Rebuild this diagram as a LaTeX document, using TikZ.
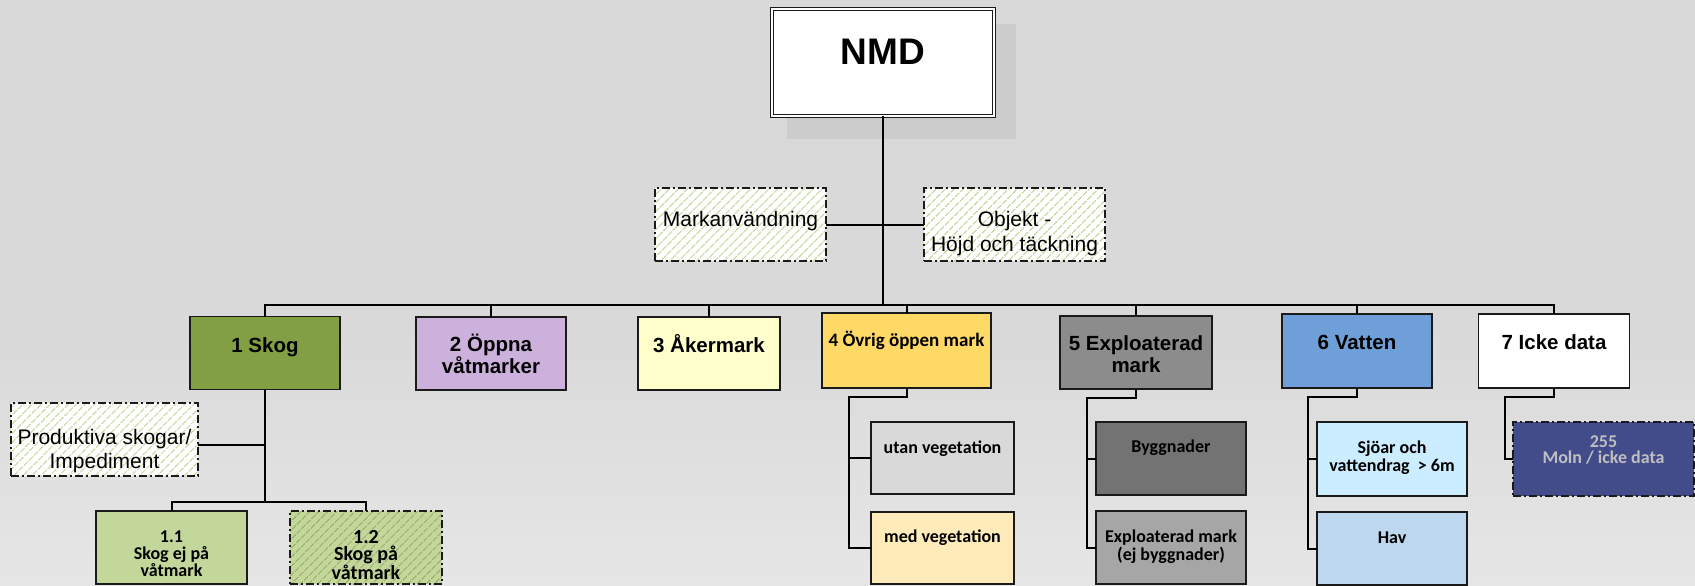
\documentclass[tikz,border=0pt]{standalone}
\usepackage{fontspec}
\setmainfont{Liberation Sans}
\newfontfamily\calib{Carlito}
\usetikzlibrary{patterns.meta}
\definecolor{bg}{HTML}{D9D9D9}
\definecolor{bgl}{HTML}{E6E6E6}
\definecolor{shadowc}{HTML}{CCCCCC}
\definecolor{boxline}{HTML}{1A1A1A}
\definecolor{cskog}{HTML}{82A043}
\definecolor{coppna}{HTML}{CDB1DD}
\definecolor{caker}{HTML}{FFFFCC}
\definecolor{covrig}{HTML}{FFD966}
\definecolor{cexpl}{HTML}{8C8C8C}
\definecolor{cvatten}{HTML}{6F9FD8}
\definecolor{cutan}{HTML}{D9D9D9}
\definecolor{cmed}{HTML}{FFEBB9}
\definecolor{cbygg}{HTML}{737373}
\definecolor{cexplm}{HTML}{A6A6A6}
\definecolor{csjoar}{HTML}{CCECFF}
\definecolor{chav}{HTML}{BDD7EE}
\definecolor{cmoln}{HTML}{434C8A}
\definecolor{cmolntxt}{HTML}{BFBFBF}
\definecolor{csgl}{HTML}{C4D79B}
\definecolor{hatchg}{HTML}{C4D79B}
\definecolor{hatchd}{HTML}{98AC68}
\newcommand\bx[4]{\begin{minipage}[c][#2pt][t]{#1pt}\centering\rule{0pt}{#3pt}#4\end{minipage}}
\begin{document}
\begin{tikzpicture}[x=1pt,y=-1pt,
  box/.style={draw=boxline, line width=1.8pt, inner sep=0pt, outer sep=0pt},
  dashdot/.style={dash pattern=on 8pt off 3pt on 2pt off 3pt},
  hatchbox/.style={box, dashdot, preaction={fill=white},
    pattern={Lines[angle=45,distance=6.5pt,line width=1.5pt]}, pattern color=hatchg},
  titlef/.style={font=\bfseries\fontsize{20.5}{22}\selectfont},
  subf/.style={font=\calib\bfseries\fontsize{18}{18}\selectfont},
  plainf/.style={font=\fontsize{21}{25}\selectfont},
  conn/.style={draw=black, line width=2pt}]
\useasboundingbox (0,0) rectangle (1695,586);
\clip (0,0) rectangle (1695,586);
\fill[bg] (0,0) rectangle (1695,586);
\shade[top color=bg, bottom color=bgl] (0,330) rectangle (1695,586);
% top node
\fill[shadowc] (787,24) rectangle (1016,139);
\node[box, fill=white, line width=1.1pt, double=white, double distance=2.6pt, font=\bfseries\fontsize{37}{40}\selectfont] (nmd) at (883,62.5) {\bx{222}{107}{56}{NMD}};
% dashed side nodes
\node[hatchbox, plainf] (mark) at (740.5,224.5) {\bx{171}{73}{38}{Markanvändning}};
\node[hatchbox, plainf] (objekt) at (1014.5,224.5) {\bx{181}{73}{38}{Objekt -\\Höjd och täckning}};
\node[hatchbox, font=\fontsize{21}{24}\selectfont] (prod) at (104.5,439.5) {\bx{187}{73}{41}{Produktiva skogar/\\Impediment}};
% level 1
\node[box, fill=cskog, titlef] (skog) at (265,353) {\bx{150}{73}{36}{1 Skog}};
\node[box, fill=coppna, titlef] (oppna) at (491,353.5) {\bx{150}{73}{34}{2 Öppna\\våtmarker}};
\node[box, fill=caker, titlef] (aker) at (709,353.5) {\bx{142}{73}{35}{3 Åkermark}};
\node[box, fill=covrig, font=\calib\bfseries\fontsize{19}{21}\selectfont] (ovrig) at (906.5,350.5) {\bx{169}{75}{33}{4 Övrig öppen mark}};
\node[box, fill=cexpl, titlef] (expl) at (1136,352.5) {\bx{152}{73}{34}{5 Exploaterad\\mark}};
\node[box, fill=cvatten, titlef] (vatten) at (1357,351) {\bx{150}{74}{35}{6 Vatten}};
\node[box, fill=white, titlef] (icke) at (1554,351) {\bx{151}{74}{35}{7 Icke data}};
% level 2
\node[box, fill=cutan, subf] (utan) at (942.5,458) {\bx{143}{72}{31}{utan vegetation}};
\node[box, fill=cmed, subf] (med) at (942.5,548) {\bx{143}{72}{30}{med vegetation}};
\node[box, fill=cbygg, subf] (bygg) at (1171,458.5) {\bx{150}{73}{30}{Byggnader}};
\node[box, fill=cexplm, subf] (explm) at (1171,547.5) {\bx{150}{73}{31}{Exploaterad mark\\(ej byggnader)}};
\node[box, fill=csjoar, subf] (sjoar) at (1392,459) {\bx{150}{74}{31}{Sjöar och\\vattendrag\ \ > 6m}};
\node[box, fill=chav, subf] (hav) at (1392,548.5) {\bx{150}{73}{31}{Hav}};
\node[box, dashdot, fill=cmoln, text=cmolntxt, font=\calib\bfseries\fontsize{18}{16.5}\selectfont] (moln) at (1603.5,459) {\bx{181}{74}{25}{255\\Moln / icke data}};
\node[box, fill=csgl, font=\calib\bfseries\fontsize{18}{17}\selectfont] (s11) at (171.5,547.5) {\bx{151}{73}{31}{1.1\\Skog ej på\\våtmark}};
\node[box, dashdot, preaction={fill=csgl}, pattern={Lines[angle=45,distance=6.5pt,line width=1.5pt]}, pattern color=hatchd, font=\calib\bfseries\fontsize{20}{17.5}\selectfont] (s12) at (366,547.5) {\bx{152}{73}{32}{1.2\\Skog på\\våtmark}};
% connectors
\coordinate (bus) at (0,305);
\draw[conn] (nmd.south) -- (nmd.south |- bus);
\draw[conn] (skog.north) |- (icke.north |- bus) -- (icke.north);
\foreach \n in {oppna,aker,ovrig,expl,vatten} \draw[conn] (\n.north) -- (\n.north |- bus);
\draw[conn] (mark.east) -- (objekt.west);
\coordinate (sbus) at (0,502);
\draw[conn] (skog.south) -- (skog.south |- sbus);
\draw[conn] (s11.north) |- (s12.north |- sbus) -- (s12.north);
\draw[conn] ([yshift=-5pt]prod.east) -- ([yshift=-5pt]prod.east -| skog.south);
\coordinate (e4) at (849,397);
\draw[conn] (ovrig.south) |- (e4) |- (med.west);
\draw[conn] (utan.west) -- (utan.west -| e4);
\coordinate (e5) at (1087,398);
\draw[conn] (expl.south) |- (e5) |- (explm.west);
\draw[conn] (bygg.west) -- (bygg.west -| e5);
\coordinate (e6) at (1308,397);
\draw[conn] (vatten.south) |- (e6) |- (hav.west);
\draw[conn] (sjoar.west) -- (sjoar.west -| e6);
\coordinate (e7) at (1505,397);
\draw[conn] (icke.south) |- (e7) |- (moln.west);
\end{tikzpicture}
\end{document}
